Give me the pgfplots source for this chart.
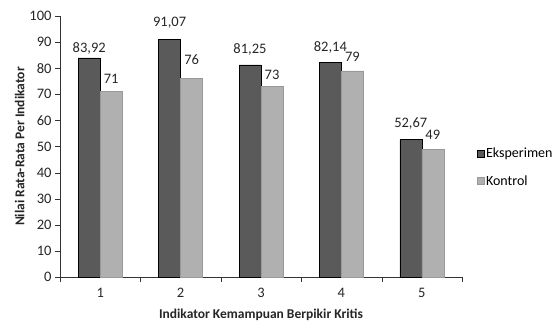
\documentclass[border=0pt]{standalone}
\usepackage{pgfplots}
\pgfplotsset{compat=1.18}
\usepackage{fontspec}
\setmainfont{Carlito}
\definecolor{darkbar}{HTML}{5A5A5A}
\definecolor{lightbar}{HTML}{B0B0B0}
\begin{document}
\begin{tikzpicture}
\path[use as bounding box] (-60pt,-47pt) rectangle (496pt,277pt);
\begin{axis}[
  at={(0pt,0pt)}, anchor=south west,
  scale only axis, width=402pt, height=261pt,
  axis lines=left, axis line style={-, black!80},
  xmin=0.5, xmax=5.5, ymin=0, ymax=100,
  ybar=0pt, bar width=22pt,
  xtick={1,2,3,4,5}, major x tick style={draw=none},
  minor xtick={0.5,1.5,2.5,3.5,4.5,5.5},
  minor x tick style={black!80},
  ytick={0,10,...,100},
  tick align=outside, tick style={black!80},
  major tick length=5pt, minor tick length=5pt,
  tick label style={font=\fontsize{14.5}{16}\selectfont, text=black!85},
  xticklabel style={yshift=-3pt},
  /pgf/number format/assume math mode=true,
  xlabel={\textbf{Indikator Kemampuan Berpikir Kritis}},
  ylabel={\textbf{Nilai Rata-Rata Per Indikator}},
  label style={font=\fontsize{13.5}{15}\selectfont, text=black!85},
  xlabel style={yshift=-4pt},
  ylabel style={yshift=-2pt},
  nodes near coords,
  point meta=explicit symbolic,
  visualization depends on={\thisrow{dy} \as \dy},
  every node near coord/.append style={font=\fontsize{14.5}{16}\selectfont, text=black!85, yshift=\dy pt},
  legend style={draw=none, at={(1.036,0.42)}, anchor=west, font=\fontsize{14}{16}\selectfont, row sep=12pt, inner sep=0pt},
  legend cell align=left,
  legend image code/.code={\draw[#1] (0pt,-3.5pt) rectangle (7pt,3.5pt);},
]
\addplot[fill=darkbar, draw=black] table[meta=lab] {
x y lab dy
1 83.92 83,92 0
2 91.07 91,07 7
3 81.25 81,25 6
4 82.14 82,14 6
5 52.67 52,67 7
};
\addplot[fill=lightbar, draw=black!40] table[meta=lab] {
x y lab dy
1 71 71 5
2 76 76 10
3 73 73 3
4 79 79 6
5 49 49 6
};
\legend{Eksperimen, Kontrol}
\end{axis}
\end{tikzpicture}
\end{document}
